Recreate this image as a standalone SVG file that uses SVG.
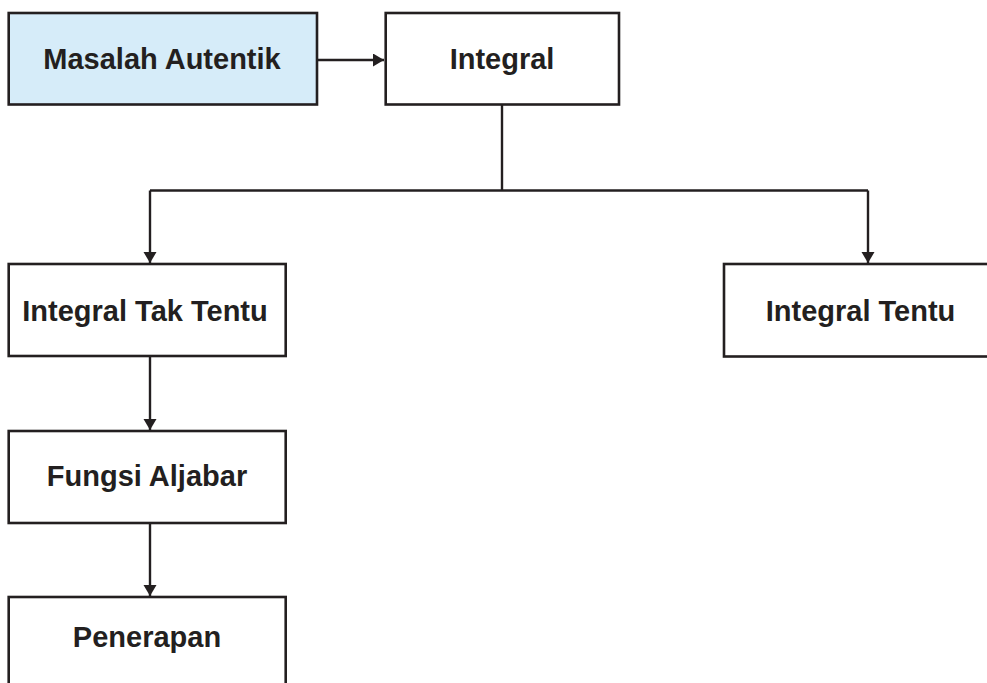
<svg xmlns="http://www.w3.org/2000/svg" width="987" height="683" viewBox="0 0 987 683">
<defs>
<style>
.box{fill:#fff;stroke:#231f20;stroke-width:2.6}
.blue{fill:#d6ecf9}
.lbl{font-family:"Liberation Sans",Arial,sans-serif;font-weight:bold;font-size:29px;fill:#231f20;text-anchor:middle}
.con{fill:none;stroke:#231f20;stroke-width:2.4}
</style>
<marker id="ah" markerWidth="12" markerHeight="14" refX="11" refY="6.5" orient="auto" markerUnits="userSpaceOnUse">
<path d="M0,0 L11,6.5 L0,13 Z" fill="#231f20"/>
</marker>
</defs>
<rect width="987" height="683" fill="#fff"/>
<g id="connectors">
<path class="con" d="M318,60 H384" marker-end="url(#ah)"/>
<path class="con" d="M502,105 V190.5"/>
<path class="con" d="M150,190.5 H868"/>
<path class="con" d="M150,190.5 V263" marker-end="url(#ah)"/>
<path class="con" d="M868,190.5 V263" marker-end="url(#ah)"/>
<path class="con" d="M150,356 V430" marker-end="url(#ah)"/>
<path class="con" d="M150,523 V596" marker-end="url(#ah)"/>
</g>
<g id="n-masalah">
<rect class="box blue" x="8.7" y="13" width="308.3" height="91.5"/>
<text class="lbl" x="162" y="68.5">Masalah Autentik</text>
</g>
<g id="n-integral">
<rect class="box" x="385.7" y="13" width="233.3" height="91.5"/>
<text class="lbl" x="502" y="69.3">Integral</text>
</g>
<g id="n-taktentu">
<rect class="box" x="8.7" y="264" width="277" height="92"/>
<text class="lbl" x="145" y="321">Integral Tak Tentu</text>
</g>
<g id="n-tentu">
<rect class="box" x="724" y="264" width="300" height="92.5"/>
<text class="lbl" x="860.5" y="320.7">Integral Tentu</text>
</g>
<g id="n-fungsi">
<rect class="box" x="8.7" y="431" width="277" height="92"/>
<text class="lbl" x="147" y="486">Fungsi Aljabar</text>
</g>
<g id="n-penerapan">
<rect class="box" x="8.7" y="597" width="277" height="100"/>
<text class="lbl" x="147" y="646.7">Penerapan</text>
</g>
</svg>
